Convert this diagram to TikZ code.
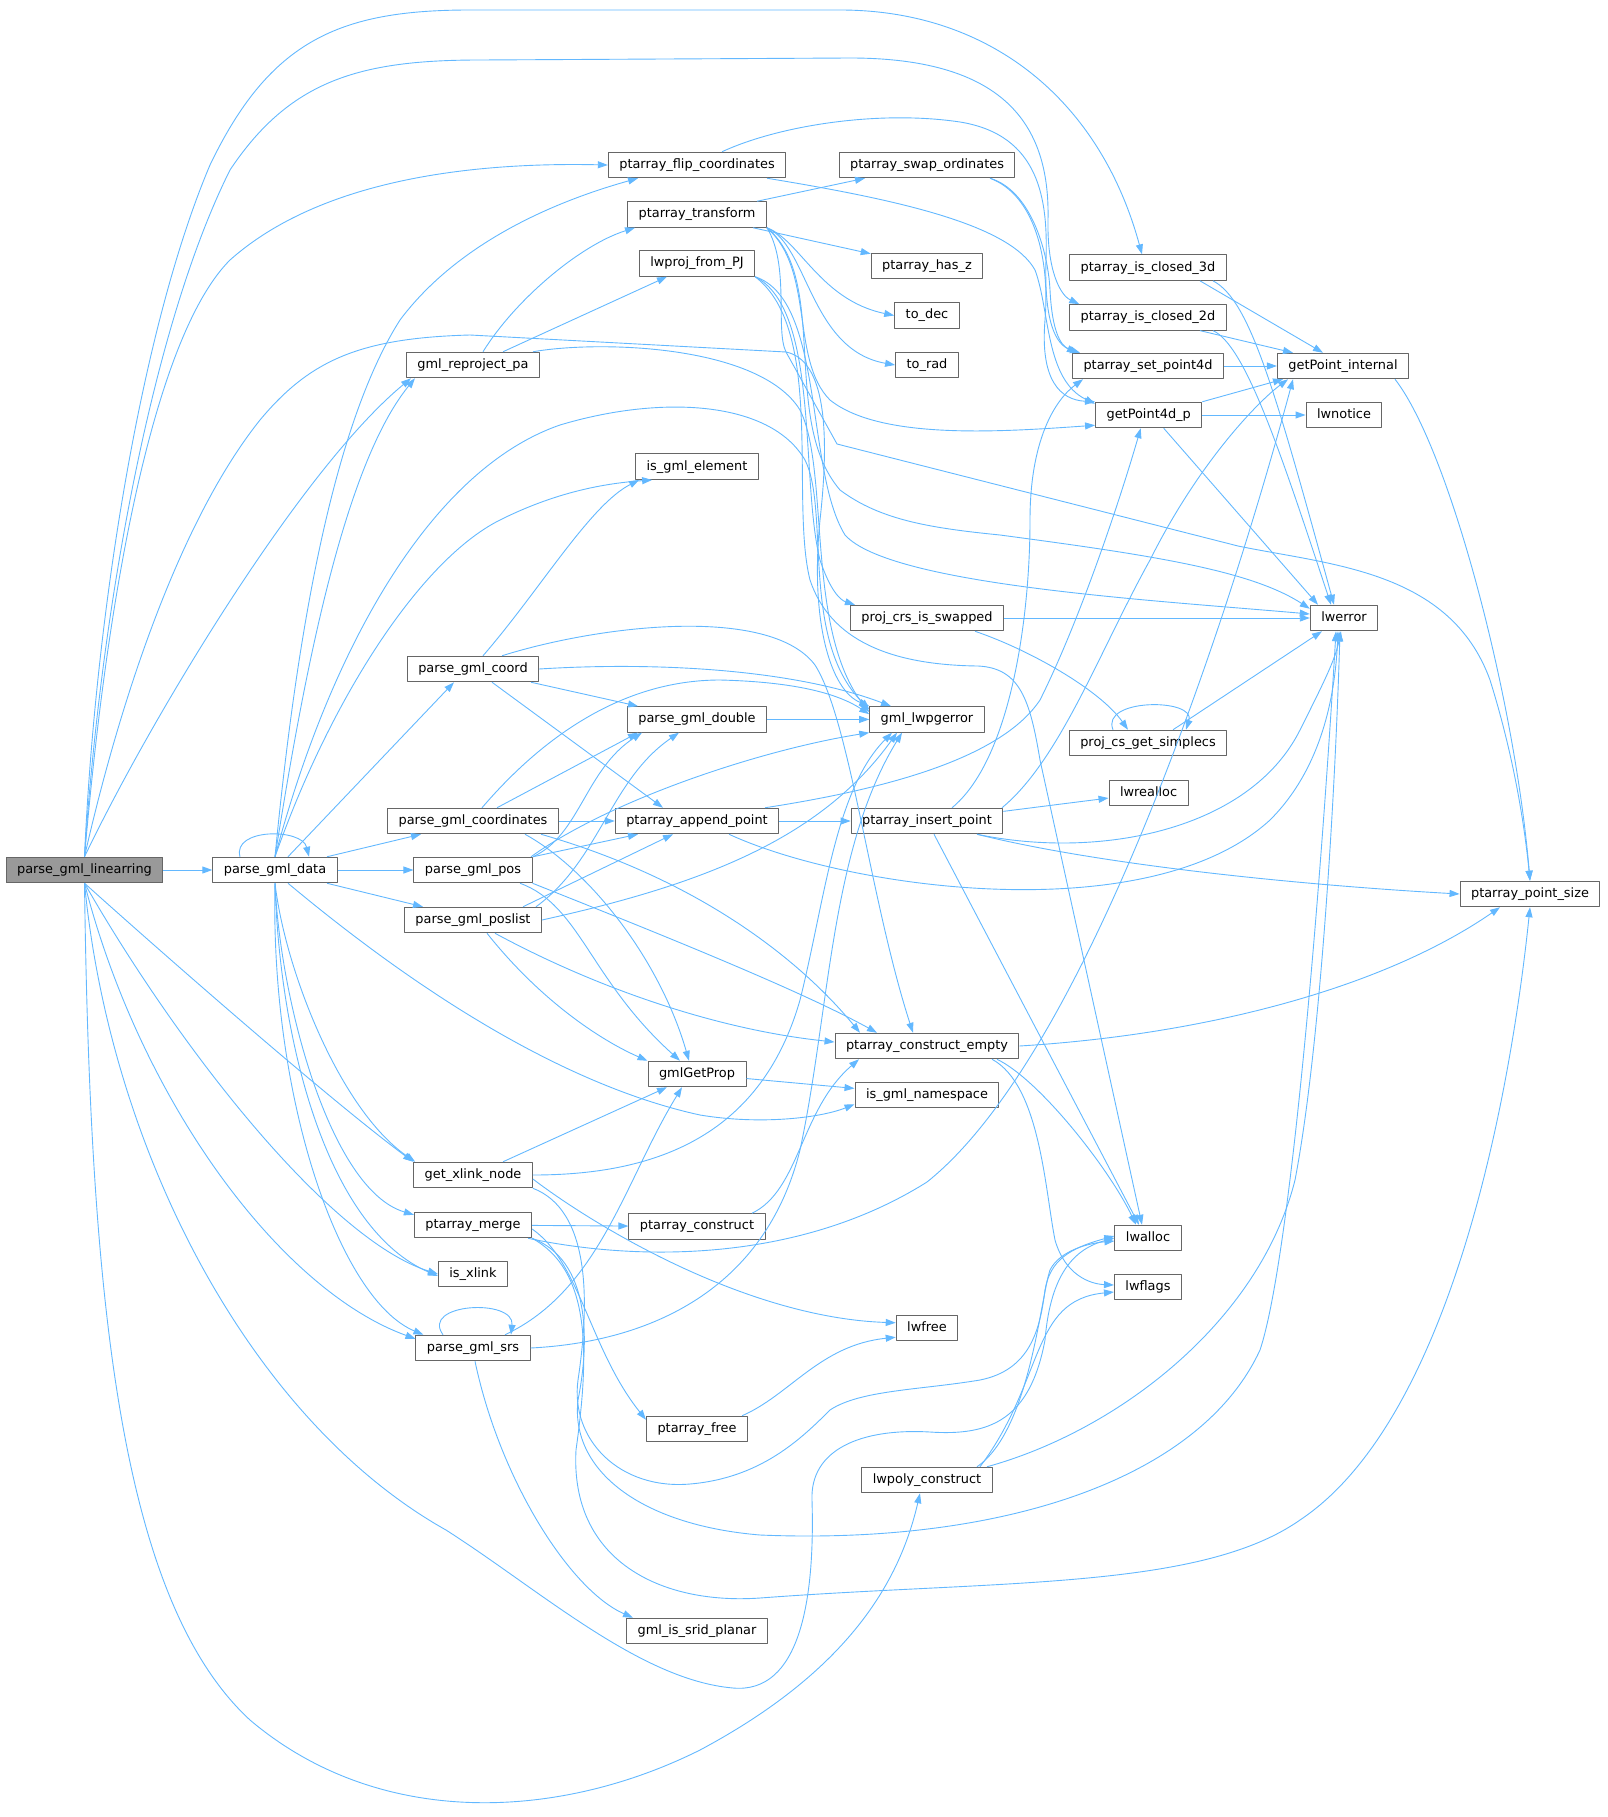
\documentclass[tikz,border=0pt]{standalone}
\usepackage{fontspec}
\setmainfont{DejaVu Sans}
\usetikzlibrary{arrows.meta}
\definecolor{edgeblue}{HTML}{63B8FF}
\definecolor{boxgray}{HTML}{666666}
\definecolor{rootgray}{HTML}{999999}
\begin{document}
\begin{tikzpicture}[x=1pt,y=-1pt,>={Triangle[length=10pt,width=7pt]},line join=round,
  fn/.style={draw=boxgray,fill=white,line width=1pt,minimum height=25.5pt,inner xsep=11pt,inner ysep=0pt,
    text height=9.4pt,text depth=2.6pt,font=\fontsize{12.9}{15}\selectfont},
  root/.style={fn,fill=rootgray},
  call/.style={->,draw=edgeblue,line width=0.9pt}]
\useasboundingbox (0,0) rectangle (1607,1817);
\node[root] (lin) at (84.5,870) {parse\_gml\_linearring};
\node[fn] (data) at (275,870) {parse\_gml\_data};
\node[fn] (flip) at (697,165) {ptarray\_flip\_coordinates};
\node[fn] (trans) at (697,214.5) {ptarray\_transform};
\node[fn] (proj) at (697,263.5) {lwproj\_from\_PJ};
\node[fn] (repro) at (473,365) {gml\_reproject\_pa};
\node[fn] (isel) at (697,466.7) {is\_gml\_element};
\node[fn] (coord) at (473,669) {parse\_gml\_coord};
\node[fn] (double) at (697,719.4) {parse\_gml\_double};
\node[fn] (coords) at (473,821) {parse\_gml\_coordinates};
\node[fn] (append) at (697,821) {ptarray\_append\_point};
\node[fn] (pos) at (473,870) {parse\_gml\_pos};
\node[fn] (poslist) at (473,920) {parse\_gml\_poslist};
\node[fn] (getprop) at (697,1074) {gmlGetProp};
\node[fn] (xlink) at (473,1175) {get\_xlink\_node};
\node[fn] (merge) at (473,1225) {ptarray\_merge};
\node[fn] (isxlink) at (473,1274) {is\_xlink};
\node[fn] (srs) at (473,1348) {parse\_gml\_srs};
\node[fn] (construct) at (697,1226.5) {ptarray\_construct};
\node[fn] (free) at (697,1429) {ptarray\_free};
\node[fn] (planar) at (697,1631) {gml\_is\_srid\_planar};
\node[fn] (swap) at (927,165) {ptarray\_swap\_ordinates};
\node[fn] (hasz) at (927,266) {ptarray\_has\_z};
\node[fn] (todec) at (927,315.5) {to\_dec};
\node[fn] (torad) at (927,365) {to\_rad};
\node[fn] (swapped) at (927,618) {proj\_crs\_is\_swapped};
\node[fn] (lwpg) at (927,719.4) {gml\_lwpgerror};
\node[fn] (insert) at (927,821) {ptarray\_insert\_point};
\node[fn] (cempty) at (927,1046) {ptarray\_construct\_empty};
\node[fn] (isns) at (927,1095) {is\_gml\_namespace};
\node[fn] (lwfree) at (927,1328) {lwfree};
\node[fn] (poly) at (927,1480) {lwpoly\_construct};
\node[fn] (closed3) at (1148,267.6) {ptarray\_is\_closed\_3d};
\node[fn] (closed2) at (1148,317.4) {ptarray\_is\_closed\_2d};
\node[fn] (setp) at (1148,366) {ptarray\_set\_point4d};
\node[fn] (get4d) at (1148.7,415) {getPoint4d\_p};
\node[fn] (simplecs) at (1148,743) {proj\_cs\_get\_simplecs};
\node[fn] (realloc) at (1148.6,793) {lwrealloc};
\node[fn] (alloc) at (1148,1238) {lwalloc};
\node[fn] (flags) at (1148,1287) {lwflags};
\node[fn] (gpi) at (1343,366) {getPoint\_internal};
\node[fn] (notice) at (1344,415) {lwnotice};
\node[fn] (lwerr) at (1344,618) {lwerror};
\node[fn] (psize) at (1530,894) {ptarray\_point\_size};

\draw[call] (lin) -- (data);
\draw[call] (lin.north) .. controls (95,620) and (140,330) .. (210,165) .. controls (270,40) and (340,10) .. (470,10) -- (840,10) .. controls (990,10) and (1100,100) .. ([xshift=-6pt]closed3.north);
\draw[call] (lin.north) .. controls (100,620) and (150,330) .. (230,170) .. controls (290,80) and (360,60) .. (480,60) -- (850,58) .. controls (1010,58) and (1050,130) .. (1048,220) .. controls (1047,270) and (1060,295) .. ([xshift=10pt]closed2.north west);
\draw[call] (lin.north) .. controls (110,560) and (160,330) .. (230,260) .. controls (320,180) and (470,162) .. (flip.west);
\draw[call] (lin.north) .. controls (120,700) and (180,520) .. (260,420) .. controls (310,360) and (360,338) .. (470,335) -- (786,352) .. controls (825,360) and (830,430) .. (820,520) .. controls (810,620) and (830,690) .. (lwpg.north west);
\draw[call] (lin.north) .. controls (150,720) and (300,470) .. ([xshift=5pt]repro.south west);
\draw[call] (lin.south) .. controls (170,960) and (330,1100) .. (xlink.north west);
\draw[call] (lin.south) .. controls (180,1050) and (330,1240) .. (isxlink.west);
\draw[call] (lin.south) .. controls (140,1100) and (280,1290) .. ([yshift=-4pt]srs.north west);
\draw[call] (lin.south) .. controls (110,1150) and (250,1420) .. (446,1530) .. controls (540,1590) and (640,1680) .. (733,1688) .. controls (800,1694) and (815,1600) .. (812,1500) .. controls (810,1450) and (860,1428) .. (930,1432) .. controls (990,1436) and (1030,1420) .. (1045,1340) .. controls (1050,1280) and (1070,1250) .. (alloc.west);
\draw[call] (lin.south) .. controls (90,1300) and (120,1600) .. (250,1720) .. controls (380,1830) and (560,1820) .. (700,1750) .. controls (850,1670) and (900,1580) .. ([xshift=-7pt]poly.south);

\draw[call] ([xshift=-35pt]data.north) .. controls (232,828) and (302,828) .. ([xshift=34pt]data.north);
\draw[call] ([xshift=13pt]data.north) -- ([xshift=-19pt]coord.south);
\draw[call] ([xshift=52pt]data.north) -- ([xshift=-52pt]coords.south);
\draw[call] (data) -- (pos);
\draw[call] ([xshift=52pt]data.south) -- ([xshift=-50pt]poslist.north);
\draw[call] ([xshift=13pt]data.south) .. controls (380,960) and (540,1080) .. (700,1115) .. controls (760,1125) and (820,1118) .. ([yshift=4pt]isns.south west);
\draw[call] (data.south) .. controls (285,970) and (340,1110) .. ([xshift=2pt]xlink.north west);
\draw[call] (data.south) .. controls (280,1000) and (330,1190) .. ([yshift=-3pt]merge.north west);
\draw[call] (data.south) .. controls (280,1050) and (330,1230) .. ([yshift=-2pt]isxlink.west);
\draw[call] (data.south) .. controls (270,1100) and (340,1300) .. ([xshift=8pt]srs.north west);
\draw[call] (data.north) .. controls (295,650) and (330,430) .. (400,320) .. controls (460,240) and (560,200) .. ([xshift=-59pt]flip.south);
\draw[call] (data.north) .. controls (300,700) and (340,470) .. ([xshift=9pt]repro.south west);
\draw[call] (data.north) .. controls (330,700) and (420,560) .. (500,520) .. controls (560,490) and (610,483) .. ([xshift=17pt]isel.south west);
\draw[call] (data.north) .. controls (330,650) and (430,470) .. (560,425) .. controls (660,395) and (770,400) .. (805,460) .. controls (830,510) and (800,640) .. ([yshift=-3pt]lwpg.north west);

\draw[call] ([xshift=10pt]repro.north) .. controls (515,300) and (580,245) .. ([xshift=-62pt]trans.south);
\draw[call] ([xshift=30pt]repro.north) -- ([xshift=-30pt]proj.south);
\draw[call] ([xshift=60pt]repro.north) .. controls (600,340) and (760,345) .. (800,410) .. controls (830,470) and (805,630) .. ([yshift=-6pt]lwpg.north west);

\draw[call] ([xshift=25pt]flip.north) .. controls (780,125) and (880,110) .. (960,122) .. controls (1040,135) and (1048,200) .. (1046,260) .. controls (1044,320) and (1055,345) .. ([xshift=8pt]setp.north west);
\draw[call] ([xshift=70pt]flip.south) .. controls (900,200) and (1010,225) .. (1035,270) .. controls (1050,310) and (1045,380) .. ([yshift=-2pt]get4d.north west);
\draw[call] ([xshift=63pt]swap.south) .. controls (1030,190) and (1048,250) .. (1050,290) .. controls (1052,330) and (1060,345) .. ([xshift=5pt]setp.north west);
\draw[call] ([xshift=63pt]swap.south) .. controls (1035,195) and (1050,260) .. (1045,320) .. controls (1040,380) and (1060,400) .. (get4d.north west);

\draw[call] ([xshift=60pt]trans.north) -- ([xshift=-62pt]swap.south);
\draw[call] ([xshift=56pt]trans.south) -- ([yshift=-1pt]hasz.north west);
\draw[call] (trans.south east) .. controls (800,240) and (820,300) .. (todec.west);
\draw[call] (trans.south east) .. controls (808,245) and (810,350) .. (torad.west);
\draw[call] (trans.south east) .. controls (815,270) and (790,360) .. (830,400) .. controls (880,440) and (1000,432) .. ([yshift=3pt]get4d.south west);
\draw[call] (trans.south east) .. controls (790,265) and (775,330) .. (786,352) -- (837,444) -- (1238,546) .. controls (1330,565) and (1450,570) .. (1490,680) .. controls (1515,760) and (1525,830) .. (psize.north);
\draw[call] (trans.south east) .. controls (830,280) and (780,420) .. (840,490) .. controls (880,520) and (930,528) .. (1000,535) .. controls (1150,555) and (1250,570) .. ([yshift=-4pt]lwerr.north west);

\draw[call] (proj.south east) .. controls (820,310) and (800,480) .. (820,560) .. controls (830,590) and (840,600) .. ([xshift=5pt]swapped.north west);
\draw[call] (proj.south east) .. controls (825,300) and (805,470) .. (845,535) .. controls (890,585) and (1150,600) .. ([yshift=4pt]lwerr.west);
\draw[call] (proj.south east) .. controls (825,330) and (790,500) .. (810,580) .. controls (830,640) and (890,665) .. (978,666) .. controls (1020,668) and (1030,700) .. (1040,760) -- ([xshift=-6pt]alloc.north);
\draw[call] (swapped) -- (lwerr);
\draw[call] ([xshift=48pt]swapped.south) .. controls (1030,650) and (1100,690) .. ([xshift=-20pt]simplecs.north);
\draw[call] ([xshift=-35pt]simplecs.north) .. controls (1100,698) and (1196,698) .. ([xshift=38pt]simplecs.north);
\draw[call] ([xshift=25pt]simplecs.north) -- ([xshift=-22pt]lwerr.south);

\draw[call] (get4d.north east) -- ([xshift=-60pt]gpi.south);
\draw[call] (get4d) -- (notice);
\draw[call] ([xshift=15pt]get4d.south) -- ([xshift=-26pt]lwerr.north);
\draw[call] (setp) -- (gpi);
\draw[call] ([xshift=52pt]closed3.south) -- ([xshift=-20pt]gpi.north);
\draw[call] ([xshift=65pt]closed3.south) .. controls (1250,300) and (1275,390) .. ([xshift=-10pt]lwerr.north);
\draw[call] ([xshift=52pt]closed2.south) -- ([xshift=-50pt]gpi.north);
\draw[call] ([xshift=65pt]closed2.south) .. controls (1245,345) and (1280,450) .. ([xshift=-13pt]lwerr.north);
\draw[call] ([xshift=52pt]gpi.south) .. controls (1450,450) and (1515,700) .. (psize.north);

\draw[call] ([xshift=10pt]coord.north) .. controls (540,590) and (590,505) .. ([xshift=4pt]isel.south west);
\draw[call] (coord.east) .. controls (650,662) and (790,668) .. ([xshift=-36pt]lwpg.north);
\draw[call] ([xshift=29pt]coord.north) .. controls (600,625) and (770,605) .. (815,665) .. controls (850,720) and (870,900) .. ([xshift=-14pt]cempty.north);
\draw[call] ([xshift=58pt]coord.south) -- ([xshift=-59pt]double.north);
\draw[call] ([xshift=19pt]coord.south) -- ([xshift=-34pt]append.north);

\draw[call] ([xshift=9pt]coords.north) .. controls (540,740) and (620,680) .. (720,680) .. controls (800,682) and (840,695) .. ([yshift=-8pt]lwpg.north west);
\draw[call] ([xshift=24pt]coords.north) -- ([xshift=-59pt]double.south);
\draw[call] (coords) -- (append);
\draw[call] ([xshift=52pt]coords.south) .. controls (590,870) and (660,960) .. ([xshift=-8pt]getprop.north);
\draw[call] ([xshift=68pt]coords.south) .. controls (700,880) and (800,960) .. ([xshift=-67pt]cempty.north);

\draw[call] ([xshift=60pt]pos.north) -- ([xshift=-59pt]append.south);
\draw[call] ([xshift=60pt]pos.north) .. controls (580,835) and (585,770) .. ([xshift=-55pt]double.south);
\draw[call] ([xshift=58pt]pos.north) .. controls (610,800) and (760,750) .. (lwpg.south west);
\draw[call] ([xshift=47pt]pos.south) .. controls (580,905) and (590,980) .. ([xshift=-17pt]getprop.north);
\draw[call] (pos.south east) .. controls (650,930) and (800,990) .. ([xshift=-50pt]cempty.north);

\draw[call] ([xshift=50pt]poslist.north) -- ([xshift=-24pt]append.south);
\draw[call] ([xshift=63pt]poslist.north) .. controls (600,860) and (610,780) .. ([xshift=-18pt]double.south);
\draw[call] (poslist.east) .. controls (700,885) and (820,840) .. ([xshift=-30pt]lwpg.south);
\draw[call] ([xshift=14pt]poslist.south) .. controls (540,1000) and (600,1040) .. (getprop.north west);
\draw[call] ([xshift=22pt]poslist.south) .. controls (600,990) and (720,1030) .. ([yshift=4pt]cempty.west);

\draw[call] (double) -- (lwpg);
\draw[call] (append) -- (insert);
\draw[call] ([xshift=68pt]append.north) .. controls (880,790) and (1000,760) .. (1040,700) .. controls (1080,620) and (1120,500) .. ([xshift=-8pt]get4d.south);
\draw[call] ([xshift=32pt]append.south) .. controls (850,890) and (1150,930) .. (1270,820) .. controls (1320,770) and (1335,700) .. ([xshift=-6pt]lwerr.south);

\draw[call] (insert) -- (realloc);
\draw[call] ([xshift=25pt]insert.north) .. controls (1010,760) and (1030,620) .. (1030,520) .. controls (1030,440) and (1055,400) .. ([xshift=-65pt]setp.south);
\draw[call] ([xshift=75pt]insert.north) .. controls (1060,760) and (1100,650) .. (1150,560) .. controls (1200,460) and (1260,400) .. ([xshift=-55pt]gpi.south);
\draw[call] ([xshift=50pt]insert.south) .. controls (1100,860) and (1250,830) .. (1300,730) .. controls (1325,680) and (1335,660) .. ([xshift=-3pt]lwerr.south);
\draw[call] ([xshift=50pt]insert.south) .. controls (1100,865) and (1300,885) .. (psize.west);
\draw[call] ([xshift=7pt]insert.south) -- ([xshift=-9pt]alloc.north);

\draw[call] (cempty.east) .. controls (1200,1035) and (1380,990) .. ([xshift=-30pt]psize.south);
\draw[call] ([xshift=70pt]cempty.south) .. controls (1040,1080) and (1110,1170) .. ([xshift=-12pt]alloc.north);
\draw[call] ([xshift=65pt]cempty.south) .. controls (1040,1085) and (1045,1190) .. (1055,1240) .. controls (1065,1275) and (1090,1284) .. ([yshift=2pt]flags.west);
\draw[call] (getprop) -- (isns);

\draw[call] ([xshift=30pt]xlink.north) -- ([xshift=-30pt]getprop.south);
\draw[call] (xlink.east) .. controls (650,1175) and (760,1140) .. (800,1000) .. controls (825,900) and (835,790) .. ([xshift=-35pt]lwpg.south);
\draw[call] ([yshift=-4pt]xlink.east) .. controls (600,1230) and (750,1318) .. ([yshift=-8pt]lwfree.north west);
\draw[call] (xlink.south east) .. controls (590,1210) and (590,1300) .. (578,1380) .. controls (570,1440) and (620,1490) .. (690,1484) .. controls (760,1478) and (800,1440) .. (830,1410) .. controls (860,1390) and (920,1390) .. (980,1380) .. controls (1030,1370) and (1040,1330) .. (1045,1290) .. controls (1050,1260) and (1070,1248) .. ([yshift=2pt]alloc.west);

\draw[call] (merge) -- (construct);
\draw[call] ([xshift=55pt]merge.south) .. controls (640,1262) and (800,1262) .. (927,1182) .. controls (1080,1060) and (1220,650) .. ([xshift=-50pt]gpi.south);
\draw[call] ([yshift=-4pt]merge.east) .. controls (580,1262) and (590,1350) .. ([yshift=-4pt]free.north west);
\draw[call] (merge.south east) .. controls (590,1260) and (590,1340) .. (578,1400) .. controls (570,1470) and (640,1525) .. (760,1535) .. controls (1000,1545) and (1200,1480) .. (1260,1350) .. controls (1290,1260) and (1320,900) .. ([xshift=-8pt]lwerr.south);
\draw[call] (merge.south east) .. controls (590,1270) and (590,1350) .. (576,1450) .. controls (570,1560) and (660,1605) .. (760,1598) .. controls (1000,1580) and (1200,1590) .. (1300,1520) .. controls (1450,1420) and (1510,1100) .. (psize.south);
\draw[call] ([xshift=55pt]construct.north) .. controls (800,1190) and (800,1110) .. ([xshift=-68pt]cempty.south);
\draw[call] ([xshift=45pt]free.north) .. controls (790,1395) and (820,1345) .. ([yshift=4pt]lwfree.south west);

\draw[call] ([xshift=-30pt]srs.north) .. controls (420,1303) and (515,1298) .. ([xshift=38pt]srs.north);
\draw[call] ([xshift=32pt]srs.north) .. controls (600,1290) and (625,1180) .. ([xshift=-15pt]getprop.south);
\draw[call] (srs.east) .. controls (650,1342) and (765,1290) .. (800,1150) .. controls (830,1010) and (830,850) .. ([xshift=-25pt]lwpg.south);
\draw[call] ([xshift=2pt]srs.south) .. controls (500,1480) and (570,1590) .. ([xshift=-64pt]planar.north);

\draw[call] ([xshift=50pt]poly.north) .. controls (1030,1430) and (1040,1300) .. (1050,1270) .. controls (1060,1250) and (1090,1243) .. ([yshift=-3pt]alloc.west);
\draw[call] ([xshift=53pt]poly.north) .. controls (1045,1380) and (1030,1300) .. ([yshift=-5pt]flags.west);
\draw[call] ([xshift=60pt]poly.north) .. controls (1120,1430) and (1260,1320) .. (1295,1180) .. controls (1320,1050) and (1335,800) .. ([xshift=-4pt]lwerr.south);
\end{tikzpicture}
\end{document}
